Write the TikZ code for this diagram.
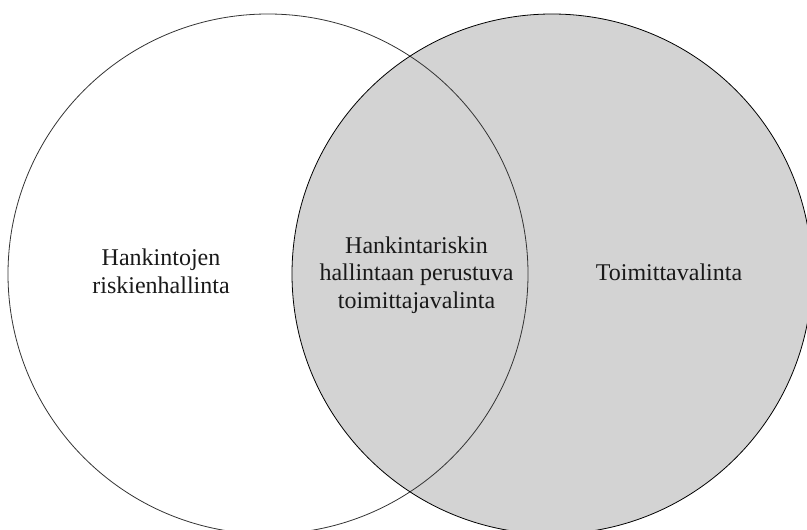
\documentclass[tikz,border=0pt]{standalone}
\usepackage{fontspec}
\setmainfont{Liberation Serif}
\definecolor{setgray}{RGB}{211,211,211}
\tikzset{
  setline/.style={line width=0.8pt, draw=black},
  label/.style={font=\fontsize{24}{27.5}\selectfont, align=center, inner sep=0pt, text=black!90}
}
\begin{document}
\begin{tikzpicture}[x=1pt,y=-1pt]
\useasboundingbox (0,0) rectangle (807,530);
\fill[white] (0,0) rectangle (807,530);
\clip (0,0) rectangle (807,530);
\fill[setgray] (552,274) circle (260pt);
\draw[setline, draw=black!80] (268,274) circle (260pt);
\draw[setline] (552,274) circle (260pt);
\node[label, anchor=base] (lt) at (161,293) {Hankintojen\\riskienhallinta};
\node[label, anchor=base] (mt) at (416.5,308) {Hankintariskin\\hallintaan perustuva\\toimittajavalinta};
\node[label, anchor=base] (rt) at (669,280) {Toimittavalinta};
\end{tikzpicture}
\end{document}
